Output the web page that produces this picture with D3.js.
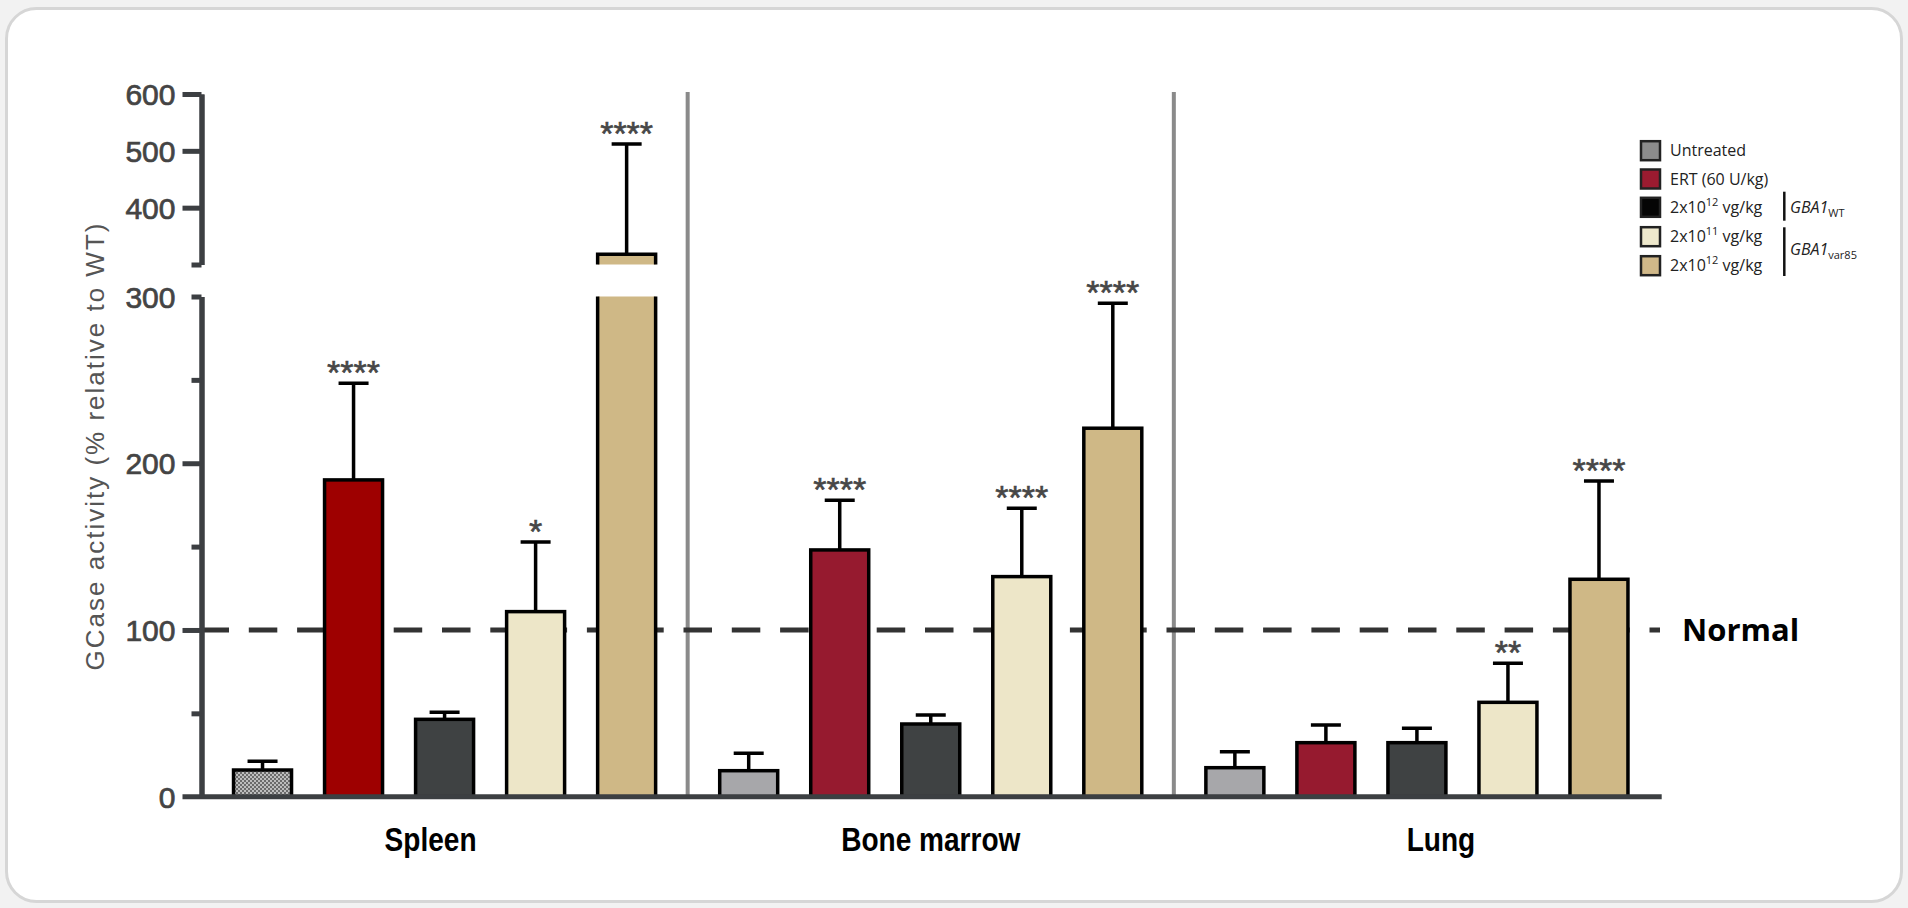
<!DOCTYPE html>
<html><head><meta charset="utf-8">
<script src="https://cdn.jsdelivr.net/npm/d3@7"></script>
<style>html,body{margin:0;padding:0;background:#f2f2f2;} svg{display:block;}</style>
</head><body><svg id="c" width="1908" height="908"></svg>
<script>
// ---------- data ----------
const groups = ["Spleen", "Bone marrow", "Lung"];
const series = ["Untreated", "ERT (60 U/kg)", "GBA1WT 2x10^12", "GBA1var85 2x10^11", "GBA1var85 2x10^12"];
const meanSpleen = [16, 190, 46.4, 111, 318];
const sdSpleen   = [5.2, 58, 4.2, 41.8, 194];
const meanBM     = [15.6, 148, 43.6, 132, 221];
const sdBM       = [10.4, 29.8, 5.4, 41, 75];
const meanLung   = [17.4, 32.4, 32.4, 56.6, 130.4];
const sdLung     = [9.6, 10.6, 8.6, 23.4, 59];
const sigSpleen  = ["", "****", "", "*", "****"];
const sigBM      = ["", "****", "", "****", "****"];
const sigLung    = ["", "", "", "**", "****"];
const normalValue = 100;
const lowerMajorTicks = [0, 100, 200];
const lowerMinorTicks = [50, 150, 250, 300];
const upperMajorTicks = [400, 500, 600];
const upperMinorTicks = [300];
const tickLabels = [0, 100, 200, 300, 400, 500, 600];
const breakValue = 300;
const upperMax = 600;

const means = [meanSpleen, meanBM, meanLung];
const sds = [sdSpleen, sdBM, sdLung];
const sigs = [sigSpleen, sigBM, sigLung];

// ---------- styles ----------
const fillColors = ["#a7a7aa", "#961a2f", "#3f4243", "#ede6c8", "#cfb886"];
const legendColors = ["#8c8c8c", "#9b1b30", "#050505", "#eee8cc", "#d0b889"];
const axisColor = "#3c3f42";

const svg = d3.select("#c");
// frame
svg.append("rect").attr("x", 6.5).attr("y", 8.5).attr("width", 1895).attr("height", 893)
  .attr("rx", 30).attr("fill", "#fff").attr("stroke", "#d6d6d6").attr("stroke-width", 3);

// defs: hatch pattern
const defs = svg.append("defs");
const pat = defs.append("pattern").attr("id", "hatch").attr("patternUnits", "userSpaceOnUse")
  .attr("width", 4).attr("height", 4);
pat.append("rect").attr("width", 4).attr("height", 4).attr("fill", "#bdbdbd");
pat.append("rect").attr("width", 2).attr("height", 2).attr("fill", "#6b6b6b");
pat.append("rect").attr("x", 2).attr("y", 2).attr("width", 2).attr("height", 2).attr("fill", "#6b6b6b");

// ---------- scales ----------
const axisX = 201.5;
const plotRight = 1660;
const yLow = d3.scaleLinear().domain([0, breakValue]).range([796.7, 296.5]);
const yHigh = d3.scaleLinear().domain([breakValue, upperMax]).range([264.5, 94]);
const x0 = d3.scaleBand().domain(groups).range([axisX, plotRight]);
const x1 = d3.scaleBand().domain(series).range([0, x0.bandwidth()]).paddingInner(0.363).paddingOuter(0.352);

const g = svg.append("g");

// separators
g.selectAll(".sep").data(groups.slice(1)).join("line")
  .attr("x1", d => x0(d)).attr("x2", d => x0(d))
  .attr("y1", 92).attr("y2", yLow(0))
  .attr("stroke", "#8a8a8a").attr("stroke-width", 4);

// normal dashed line
g.append("line").attr("x1", axisX - 1).attr("x2", plotRight)
  .attr("y1", yLow(normalValue)).attr("y2", yLow(normalValue))
  .attr("stroke", "#333").attr("stroke-width", 5).attr("stroke-dasharray", "28.5,19.8");

// bars
const bw = x1.bandwidth();
const stroke = 3.5;
groups.forEach((grp, gi) => {
  series.forEach((s, si) => {
    const v = means[gi][si];
    const xl = x0(grp) + x1(s);
    const xr = xl + bw;
    const cx = xl + bw / 2;
    let fill = fillColors[si];
    if (gi === 0 && si === 0) fill = "url(#hatch)";
    if (gi === 0 && si === 1) fill = "#9e0000";
    let errScale;
    if (v <= breakValue) {
      g.append("rect").attr("x", xl).attr("y", yLow(v)).attr("width", bw).attr("height", yLow(0) - yLow(v))
        .attr("fill", fill).attr("stroke", "#000").attr("stroke-width", stroke);
      errScale = yLow;
    } else {
      g.append("rect").attr("x", xl).attr("y", yLow(breakValue)).attr("width", bw).attr("height", yLow(0) - yLow(breakValue))
        .attr("fill", fill);
      g.append("path").attr("d", `M${xl},${yLow(breakValue)}V${yLow(0)}M${xr},${yLow(breakValue)}V${yLow(0)}`)
        .attr("stroke", "#000").attr("stroke-width", stroke).attr("fill", "none");
      g.append("rect").attr("x", xl).attr("y", yHigh(v)).attr("width", bw).attr("height", yHigh(breakValue) - yHigh(v))
        .attr("fill", fill);
      g.append("path").attr("d", `M${xl},${yHigh(breakValue)}V${yHigh(v)}H${xr}V${yHigh(breakValue)}`)
        .attr("stroke", "#000").attr("stroke-width", stroke).attr("fill", "none");
      errScale = yHigh;
    }
    const top = v + sds[gi][si];
    const ePx = errScale(top);
    g.append("path").attr("d", `M${cx},${errScale(v)}V${ePx}M${cx - 15},${ePx}H${cx + 15}`)
      .attr("stroke", "#000").attr("stroke-width", stroke).attr("fill", "none");
    const sig = sigs[gi][si];
    if (sig) {
      g.append("text").attr("x", cx).attr("y", ePx + 1)
        .attr("text-anchor", "middle").attr("font-family", "Liberation Sans, Arial, sans-serif")
        .attr("font-size", 34).attr("fill", "#474747").attr("stroke", "#474747").attr("stroke-width", 0.6)
        .text(sig);
    }
  });
});

// baseline
g.append("line").attr("x1", 182.5).attr("x2", 1661.7).attr("y1", yLow(0)).attr("y2", yLow(0))
  .attr("stroke", axisColor).attr("stroke-width", 5);

// axes
function styleAxis(sel) {
  sel.selectAll("path.domain").attr("stroke", axisColor).attr("stroke-width", 5);
  sel.selectAll(".tick line").attr("stroke", axisColor).attr("stroke-width", 5);
  sel.selectAll(".tick text").remove();
}
const ax = svg.append("g").attr("transform", `translate(${axisX},0)`);
ax.append("g").call(d3.axisLeft(yLow).tickValues(lowerMajorTicks).tickSize(19).tickSizeOuter(0)).call(styleAxis);
ax.append("g").call(d3.axisLeft(yLow).tickValues(lowerMinorTicks).tickSize(10).tickSizeOuter(0)).call(styleAxis);
ax.append("g").call(d3.axisLeft(yHigh).tickValues(upperMajorTicks).tickSize(19).tickSizeOuter(0)).call(styleAxis);
ax.append("g").call(d3.axisLeft(yHigh).tickValues(upperMinorTicks).tickSize(10).tickSizeOuter(0)).call(styleAxis);
ax.selectAll(".tick").filter(d => d === 0).remove();

// tick labels
ax.selectAll(".tlab").data(tickLabels).join("text")
  .attr("x", -26).attr("y", d => (d <= breakValue ? yLow(d) : yHigh(d)) + 11)
  .attr("text-anchor", "end").attr("font-family", "Liberation Sans, Arial, sans-serif")
  .attr("font-size", 30).attr("fill", "#444").attr("stroke", "#444").attr("stroke-width", 0.7)
  .text(d => d);

// y title
svg.append("text").attr("transform", "translate(103.5,446) rotate(-90)")
  .attr("text-anchor", "middle").attr("font-family", "Liberation Sans, Arial, sans-serif")
  .attr("font-size", 26).attr("letter-spacing", 2).attr("fill", "#555")
  .text("GCase activity (% relative to WT)");

// category labels (slightly condensed bold)
const labelDx = [-14, 0, 24];
svg.selectAll(".cat").data(groups).join("text")
  .attr("transform", (d, i) => `translate(${x0(d) + x0.bandwidth() / 2 + labelDx[i]},851) scale(0.85,1)`)
  .attr("text-anchor", "middle").attr("font-family", "Liberation Sans, Arial, sans-serif")
  .attr("font-weight", "bold").attr("font-size", 33).attr("fill", "#000").text(d => d);

// Normal label
svg.append("text").attr("x", 1682).attr("y", yLow(normalValue) + 11.5)
  .attr("font-family", "Open Sans, sans-serif").attr("font-weight", 700)
  .attr("font-size", 31).attr("fill", "#000").text("Normal");

// legend
const legRows = [150.7, 179, 207.3, 236.7, 265.7];
const leg = svg.append("g").attr("font-family", "Open Sans, sans-serif").attr("font-size", 16).attr("fill", "#222");
const legText = [["Untreated"], ["ERT (60 U/kg)"], ["2x10", "12", " vg/kg"], ["2x10", "11", " vg/kg"], ["2x10", "12", " vg/kg"]];
series.forEach((s, i) => {
  leg.append("rect").attr("x", 1641).attr("y", legRows[i] - 9.5).attr("width", 19).attr("height", 19)
    .attr("fill", legendColors[i]).attr("stroke", "#222").attr("stroke-width", 2.5);
  const t = leg.append("text").attr("x", 1670).attr("y", legRows[i] + 5.5);
  const parts = legText[i];
  t.append("tspan").text(parts[0]);
  if (parts.length > 1) {
    t.append("tspan").attr("font-size", 11).attr("dy", -7).text(parts[1]);
    t.append("tspan").attr("dy", 7).text(parts[2]);
  }
});
leg.append("line").attr("x1", 1784.3).attr("x2", 1784.3).attr("y1", 191.7).attr("y2", 220.7)
  .attr("stroke", "#111").attr("stroke-width", 2.5);
leg.append("line").attr("x1", 1784.3).attr("x2", 1784.3).attr("y1", 227.3).attr("y2", 276)
  .attr("stroke", "#111").attr("stroke-width", 2.5);
const g1 = leg.append("text").attr("x", 1790).attr("y", 212.5);
g1.append("tspan").attr("font-style", "italic").text("GBA1");
g1.append("tspan").attr("font-size", 11).attr("dy", 4).text("WT");
const g2 = leg.append("text").attr("x", 1790).attr("y", 254.5);
g2.append("tspan").attr("font-style", "italic").text("GBA1");
g2.append("tspan").attr("font-size", 11).attr("dy", 4).text("var85");
</script></body></html>
